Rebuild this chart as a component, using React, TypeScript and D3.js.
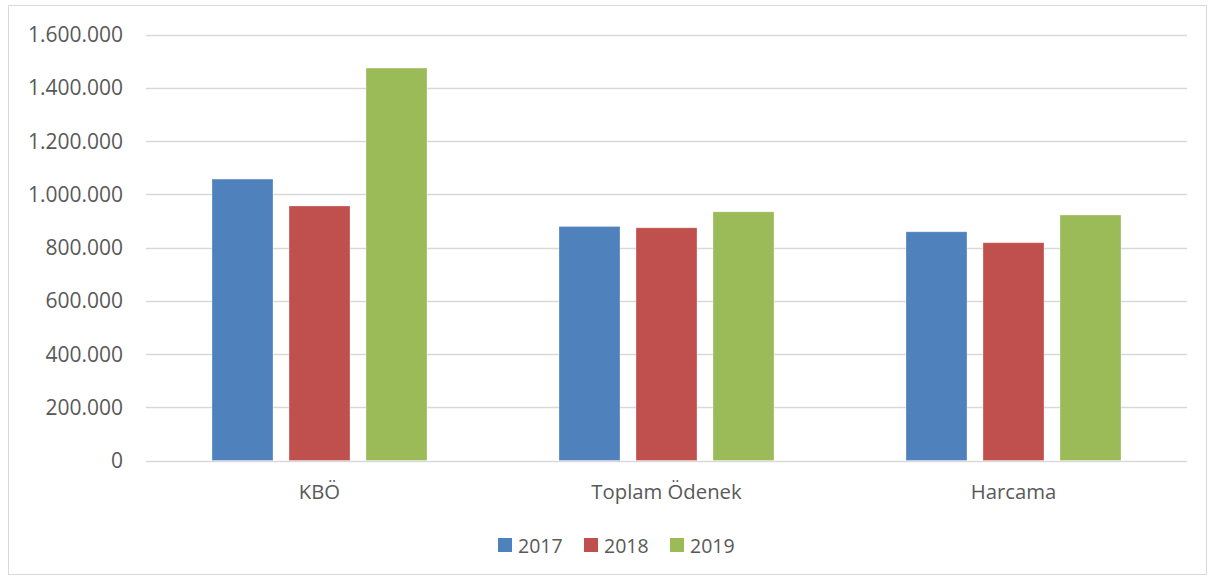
import React from "react";
import * as d3 from "d3";

const categories = ["KBÖ", "Toplam Ödenek", "Harcama"];
const seriesNames = ["2017", "2018", "2019"];
const values2017 = [1057000, 879000, 859000];
const values2018 = [956000, 874000, 818000];
const values2019 = [1474000, 934000, 922000];
const yTicks = [0, 200000, 400000, 600000, 800000, 1000000, 1200000, 1400000, 1600000];
const colors = ["#4F81BD", "#C0504D", "#9BBB59"];

const W = 1215;
const H = 579;
const plotLeft = 146;
const plotRight = 1187;
const plotTop = 34.5;
const plotBottom = 460.5;
const FONT = "'Open Sans', 'Liberation Sans', sans-serif";
const TEXT = "#595959";

const locale = d3.formatLocale({ decimal: ",", thousands: ".", grouping: [3], currency: ["", ""] });
const fmt = locale.format(",d");

export default function App() {
  const series = [values2017, values2018, values2019];
  const x = d3.scaleBand<string>().domain(categories).range([plotLeft, plotRight]).padding(0);
  const cw = x.bandwidth();
  const groupW = 215;
  const inner = d3
    .scaleBand<string>()
    .domain(seriesNames)
    .range([(cw - groupW) / 2, (cw + groupW) / 2])
    .paddingInner(16 / 77)
    .paddingOuter(0);
  const y = d3.scaleLinear().domain([0, 1600000]).range([plotBottom, plotTop]);

  const legendItems = [
    { name: seriesNames[0], x: 498 },
    { name: seriesNames[1], x: 584 },
    { name: seriesNames[2], x: 670 },
  ];

  return (
    <svg width={W} height={H} style={{ position: "absolute", left: 0, top: 0, background: "#fff" }}>
      <rect x={8.5} y={5.5} width={1198} height={569} fill="#fff" stroke="#d9d9d9" strokeWidth={1} />
      {yTicks.map((t) => (
        <g key={t}>
          <line x1={plotLeft} x2={plotRight} y1={Math.round(y(t)) + 0.5} y2={Math.round(y(t)) + 0.5} stroke="#d9d9d9" strokeWidth={1.5} />
          <text x={123} y={y(t) + 7.5} textAnchor="end" fontFamily={FONT} fontSize={21} fill={TEXT}>
            {fmt(t)}
          </text>
        </g>
      ))}
      {categories.map((c, ci) => (
        <g key={c}>
          {seriesNames.map((s, si) => {
            const v = series[si][ci];
            const bx = (x(c) as number) + (inner(s) as number);
            return (
              <rect
                key={s}
                x={bx}
                y={y(v)}
                width={inner.bandwidth()}
                height={y(0) - y(v)}
                fill={colors[si]}
                stroke="rgba(255,255,255,0.4)"
                strokeWidth={0.75}
              />
            );
          })}
          <text x={(x(c) as number) + cw / 2} y={499} textAnchor="middle" fontFamily={FONT} fontSize={20.3} fill={TEXT}>
            {c}
          </text>
        </g>
      ))}
      {legendItems.map((it, i) => (
        <g key={it.name}>
          <rect x={it.x} y={538} width={14} height={14} fill={colors[i]} />
          <text x={it.x + 20} y={553} fontFamily={FONT} fontSize={19.5} fill={TEXT}>
            {it.name}
          </text>
        </g>
      ))}
    </svg>
  );
}
